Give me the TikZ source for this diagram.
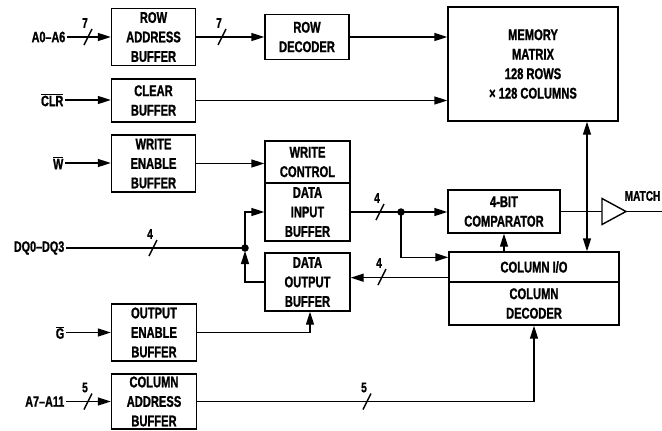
\documentclass[tikz,border=0pt]{standalone}
\usepackage{fontspec}
\setmainfont[FakeStretch=0.72, BoldFeatures={FakeBold=1.2}]{Liberation Sans}
\usetikzlibrary{arrows.meta,calc}
\newcommand\busmark[4]{%
  \draw (#1-4,#2+8) -- (#1+4,#2-8);
  \node[num] (#4) at (#1-3,#2-14) {#3};}
\begin{document}
\begin{tikzpicture}[x=1pt,y=-1pt,
  line width=1.4pt,
  blk/.style={draw, rectangle, inner sep=0pt, align=center, font=\fontsize{15.5}{19.5}\selectfont\bfseries},
  lbl/.style={inner sep=1pt, anchor=east, font=\fontsize{15}{16}\selectfont\bfseries},
  num/.style={inner sep=0pt, font=\fontsize{14}{14}\selectfont\bfseries},
  arr/.style={-{Triangle[length=13pt,width=8pt]}},
  barr/.style={{Triangle[length=13pt,width=8pt]}-{Triangle[length=13pt,width=8pt]}},
  jdot/.style={circle, fill, inner sep=0pt, minimum size=7.5pt}]
\useasboundingbox (0,0) rectangle (662,431);

% blocks
\node[blk, minimum width=84pt, minimum height=57pt] (rab) at (153.5,37) {ROW\\ADDRESS\\BUFFER};
\node[blk, minimum width=84pt, minimum height=45pt] (rowdec) at (307,37) {ROW\\DECODER};
\node[blk, minimum width=170pt, minimum height=114pt] (mem) at (533,64) {MEMORY\\MATRIX\\128 ROWS\\× 128 COLUMNS};
\node[blk, minimum width=84pt, minimum height=43pt] (clr) at (153.5,100.5) {CLEAR\\BUFFER};
\node[blk, minimum width=84pt, minimum height=57pt] (web) at (153.5,163.5) {WRITE\\ENABLE\\BUFFER};
\node[blk, minimum width=85pt, minimum height=42pt] (wc) at (307.5,162) {WRITE\\CONTROL};
\node[blk, minimum width=85pt, minimum height=58pt] (dib) at (307.5,212) {DATA\\INPUT\\BUFFER};
\node[blk, minimum width=85pt, minimum height=58pt] (dob) at (307.5,282) {DATA\\OUTPUT\\BUFFER};
\node[blk, minimum width=85pt, minimum height=57pt] (oeb) at (154,332.5) {OUTPUT\\ENABLE\\BUFFER};
\node[blk, minimum width=85pt, minimum height=55pt] (cab) at (154,401.5) {COLUMN\\ADDRESS\\BUFFER};
\node[blk, minimum width=112pt, minimum height=43pt] (cmp) at (504,211.5) {4-BIT\\COMPARATOR};
\node[blk, minimum width=170pt, minimum height=30pt] (colio) at (534,267) {COLUMN I/O};
\node[blk, minimum width=170pt, minimum height=43pt] (coldec) at (534,303.5) {COLUMN\\DECODER};

% input labels
\node[lbl] (la) at (67,37) {A0–A6};
\node[lbl] (lclr) at (65,100) {$\overline{\hbox{CLR}}$};
\node[lbl] (lw) at (65,163) {$\overline{\hbox{W}}$};
\node[lbl] (ldq) at (66,248) {DQ0–DQ3};
\node[lbl] (lg) at (66,332.5) {$\overline{\hbox{G}}$};
\node[lbl] (la7) at (66,401.5) {A7–A11};

% coordinates
\coordinate (j1) at (245,248);
\coordinate (j2) at (401,212);
\coordinate (vx) at (587,0);
\coordinate (bufin) at (602,211.5);
\coordinate (bufout) at (626,211.5);
\coordinate (mout) at (670,211.5);
\coordinate (c1) at ($(colio.south west)+(0,-5)$);
\coordinate (c2) at ($(colio.north west)+(0,6)$);
\coordinate (c3) at ($(dob.south)+(2.5,0)$);

% connectors
\draw[arr] (la.east) -- (la.east -| rab.west);
\busmark{88}{37}{7}{m1}
\draw[arr] (rab.east) -- (rowdec.west);
\busmark{222}{37}{7}{m2}
\draw[arr] (rowdec.east) -- (rowdec.east -| mem.west);

\draw[arr] (lclr.east) -- (lclr.east -| clr.west);
\draw[arr] (clr.east) -- (clr.east -| mem.west);

\draw[arr] (lw.east) -- (lw.east -| web.west);
\draw[arr] (web.east) -- (web.east -| wc.west);

\draw (ldq.east) -- (j1);
\busmark{153}{248}{4}{m3}
\draw[arr] (j1) |- (dib.west);
\draw[arr, shorten >=3pt] (dob.west) -| (j1);
\node[jdot] (d1) at (j1) {};

\draw (dib.east) -- (j2);
\busmark{380}{212}{4}{m4}
\draw[arr] (j2) -- (j2 -| cmp.west);
\draw[arr] (j2) |- (c2);
\node[jdot] (d2) at (j2) {};

\draw[arr] (c1) -- (c1 -| dob.east);
\busmark{382}{277}{4}{m5}

\draw[arr] (colio.north -| cmp.south) -- (cmp.south);
\draw[barr] (mem.south -| vx) -- (colio.north -| vx);

\draw (cmp.east) -- (bufin);
\draw (602,198.5) -- (626,211.5) -- (602,224.5) -- cycle;
\draw (bufout) -- (mout);
\node[lbl, anchor=west, inner sep=0pt, font=\fontsize{14}{16}\selectfont\bfseries] (match) at (624,196) {MATCH};

\draw[arr] (lg.east) -- (lg.east -| oeb.west);
\draw[arr] (oeb.east) -| (c3);

\draw[arr] (la7.east) -- (la7.east -| cab.west);
\busmark{88}{401.5}{5}{m6}
\draw[arr] (cab.east) -| (coldec.south);
\busmark{367}{401.5}{5}{m7}
\end{tikzpicture}
\end{document}
